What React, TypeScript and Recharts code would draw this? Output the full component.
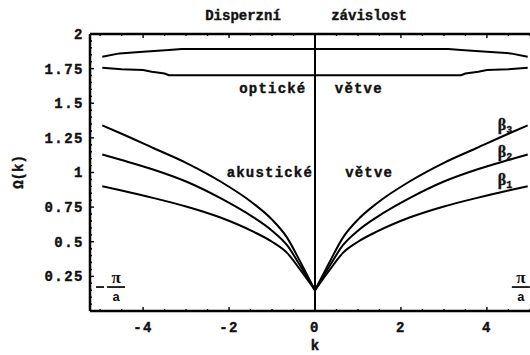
import {
  LineChart,
  Line,
  XAxis,
  YAxis,
  ReferenceLine,
  ReferenceDot,
} from "recharts";

// lattice constant; the k range runs over the first zone -π/a .. π/a
const A = 0.6;
const K_MAX = Math.PI / A;

const MONO = '"Liberation Mono", "DejaVu Sans Mono", monospace';
const SERIF = '"Liberation Serif", "DejaVu Serif", serif';

// acoustic branches Ω(k) for three coupling constants β1 < β2 < β3
const kAcoustic = [
  -4.95, -4.5, -3.75, -3.0, -2.2, -1.45, -1.0, -0.65, -0.35, 0,
  0.35, 0.65, 1.0, 1.45, 2.2, 3.0, 3.75, 4.5, 4.95,
];
const beta1 = [
  0.9, 0.87, 0.815, 0.755, 0.675, 0.575, 0.5, 0.42, 0.3, 0.15,
  0.3, 0.42, 0.5, 0.575, 0.675, 0.755, 0.815, 0.87, 0.9,
];
const beta2 = [
  1.13, 1.09, 1.02, 0.935, 0.815, 0.68, 0.58, 0.475, 0.33, 0.15,
  0.33, 0.475, 0.58, 0.68, 0.815, 0.935, 1.02, 1.09, 1.13,
];
const beta3 = [
  1.34, 1.28, 1.175, 1.07, 0.935, 0.78, 0.66, 0.53, 0.36, 0.15,
  0.36, 0.53, 0.66, 0.78, 0.935, 1.07, 1.175, 1.28, 1.34,
];

// optical branches (upper / lower edge of the optical band)
const kOpticUpper = [-4.95, -4.55, -4.0, -3.4, -3.1, 3.1, 3.4, 4.0, 4.55, 4.95];
const opticUpper = [1.835, 1.86, 1.872, 1.884, 1.892, 1.892, 1.884, 1.872, 1.86, 1.835];
const kOpticLower = [-4.95, -4.5, -4.0, -3.8, -3.5, -3.4, 3.4, 3.5, 3.8, 4.0, 4.5, 4.95];
const opticLower = [1.757, 1.745, 1.74, 1.728, 1.715, 1.703, 1.703, 1.715, 1.728, 1.74, 1.745, 1.757];

// axis ticks
const kTicks = [-4, -2, 0, 2, 4];
const wTicks = [0.25, 0.5, 0.75, 1, 1.25, 1.5, 1.75, 2];

// text placed inside the plot (data coordinates)
const notes = [
  { k: -0.98, w: 1.6, text: "optické" },
  { k: 1.02, w: 1.6, text: "větve" },
  { k: -1.05, w: 1.0, text: "akustické" },
  { k: 1.26, w: 1.0, text: "větve" },
];
const branchLabels = [
  { k: 4.44, w: 1.345, sub: "3" },
  { k: 4.44, w: 1.15, sub: "2" },
  { k: 4.44, w: 0.945, sub: "1" },
];

const acousticRows = kAcoustic.map((k, i) => ({
  k,
  b1: beta1[i],
  b2: beta2[i],
  b3: beta3[i],
}));
// each branch has a cusp at k = 0, so the two halves are drawn separately
const leftRows = acousticRows.filter((r) => r.k <= 0);
const rightRows = acousticRows.filter((r) => r.k >= 0);
const upperRows = kOpticUpper.map((k, i) => ({ k, w: opticUpper[i] }));
const lowerRows = kOpticLower.map((k, i) => ({ k, w: opticLower[i] }));

// frame tick positions (minor ticks every 0.5 in k, 0.05 in Ω)
const round2 = (v: number) => Math.round(v * 100) / 100;
const kFrameTicks = Array.from({ length: 21 }, (_, i) => round2(-5 + i * 0.5));
const wFrameTicks = Array.from({ length: 40 }, (_, i) => round2(0.05 + i * 0.05));

const isMajor = (v: number, majors: number[]) =>
  majors.some((m) => Math.abs(m - v) < 1e-6);

// small ticks drawn inward from the frame
function inwardTick(side: "top" | "bottom" | "left", majors: number[]) {
  return (props: any) => {
    const { x, y, payload } = props;
    const len = isMajor(payload.value, majors) ? 4 : 2;
    let x2 = x;
    let y2 = y;
    if (side === "bottom") y2 = y - len;
    if (side === "top") y2 = y + len;
    if (side === "left") x2 = x + len;
    return <line x1={x} y1={y} x2={x2} y2={y2} stroke="#000" strokeWidth={1.4} />;
  };
}

const INK = "#111";

const tickFont = {
  fontSize: 14,
  fontFamily: MONO,
  fontWeight: "bold" as const,
  fill: INK,
  stroke: INK,
  strokeWidth: 0.4,
  letterSpacing: 1.5,
};

function centerOf(vb: any) {
  return { cx: vb.x + (vb.width || 0) / 2, cy: vb.y + (vb.height || 0) / 2 };
}

function NoteText({ viewBox, text }: { viewBox?: any; text: string }) {
  const { cx, cy } = centerOf(viewBox);
  return (
    <text
      x={cx}
      y={cy}
      textAnchor="middle"
      dominantBaseline="central"
      fontSize={14}
      fontFamily={MONO}
      fontWeight="bold"
      letterSpacing={1.2}
      fill={INK}
      stroke={INK}
      strokeWidth={0.4}
    >
      {text}
    </text>
  );
}

function BetaText({ viewBox, sub }: { viewBox?: any; sub: string }) {
  const { cx, cy } = centerOf(viewBox);
  return (
    <text
      x={cx - 8}
      y={cy + 5}
      fontSize={16}
      fontFamily={SERIF}
      fontWeight="bold"
      fill={INK}
      stroke={INK}
      strokeWidth={0.3}
    >
      β
      <tspan dy={3} fontSize={10} fontFamily={MONO}>
        {sub}
      </tspan>
    </text>
  );
}

// π/a written as a stacked fraction, optionally with a leading minus
function PiOverA({ viewBox, minus }: { viewBox?: any; minus?: boolean }) {
  const { cx, cy } = centerOf(viewBox);
  return (
    <g fill={INK} fontWeight="bold">
      {minus && (
        <line x1={cx - 20} y1={cy} x2={cx - 12} y2={cy} stroke={INK} strokeWidth={1.8} />
      )}
      <text x={cx} y={cy - 4} textAnchor="middle" fontSize={17} fontFamily={SERIF}>
        π
      </text>
      <line x1={cx - 9} y1={cy} x2={cx + 9} y2={cy} stroke={INK} strokeWidth={1.8} />
      <text x={cx} y={cy + 14} textAnchor="middle" fontSize={13} fontFamily={MONO}>
        a
      </text>
    </g>
  );
}

const headText = {
  fontSize: 14,
  fontFamily: MONO,
  fontWeight: "bold" as const,
  fill: INK,
  stroke: INK,
  strokeWidth: 0.4,
};

export default function App() {
  const acoustic = (rows: typeof acousticRows, key: "b1" | "b2" | "b3", side: string) => (
    <Line
      key={`${key}-${side}`}
      xAxisId="k"
      yAxisId="w"
      data={rows}
      type="monotone"
      dataKey={key}
      stroke="#000"
      strokeWidth={2}
      dot={false}
      isAnimationActive={false}
    />
  );

  return (
    <div
      style={{
        position: "fixed",
        left: 0,
        top: 0,
        width: 530,
        height: 355,
        overflow: "hidden",
        background: "#fff",
      }}
    >
      <LineChart
        width={550}
        height={355}
        margin={{ top: 34, right: 10, bottom: 14, left: 40 }}
      >
        <XAxis
          xAxisId="k"
          dataKey="k"
          type="number"
          domain={[-K_MAX, K_MAX]}
          allowDataOverflow
          ticks={kTicks}
          interval={0}
          tickLine={false}
          tickSize={0}
          tickMargin={11}
          axisLine={{ stroke: "#000", strokeWidth: 2.5 }}
          tick={tickFont}
          height={30}
          label={{
            value: "k",
            position: "bottom",
            offset: -1,
            ...headText,
          }}
        />
        <XAxis
          xAxisId="kBottomTicks"
          dataKey="k"
          type="number"
          orientation="bottom"
          mirror
          domain={[-K_MAX, K_MAX]}
          allowDataOverflow
          ticks={kFrameTicks}
          interval={0}
          tickLine={false}
          tickSize={0}
          tickMargin={0}
          axisLine={false}
          tick={inwardTick("bottom", kTicks)}
        />
        <XAxis
          xAxisId="kTop"
          dataKey="k"
          type="number"
          orientation="top"
          mirror
          domain={[-K_MAX, K_MAX]}
          allowDataOverflow
          ticks={kFrameTicks}
          interval={0}
          tickLine={false}
          tickSize={0}
          tickMargin={0}
          axisLine={{ stroke: "#000", strokeWidth: 2.5 }}
          tick={inwardTick("top", kTicks)}
        />
        <YAxis
          yAxisId="w"
          type="number"
          domain={[0, 2]}
          allowDataOverflow
          ticks={wTicks}
          interval={0}
          tickLine={false}
          tickSize={0}
          tickMargin={6}
          axisLine={{ stroke: "#000", strokeWidth: 2.5 }}
          tick={tickFont}
          width={50}
        />
        <YAxis
          yAxisId="wTicks"
          type="number"
          orientation="left"
          mirror
          domain={[0, 2]}
          allowDataOverflow
          ticks={wFrameTicks}
          interval={0}
          tickLine={false}
          tickSize={0}
          tickMargin={0}
          axisLine={false}
          tick={inwardTick("left", wTicks)}
        />

        <ReferenceLine
          xAxisId="k"
          yAxisId="w"
          x={0}
          stroke="#000"
          strokeWidth={2}
        />

        {acoustic(leftRows, "b1", "l")}
        {acoustic(rightRows, "b1", "r")}
        {acoustic(leftRows, "b2", "l")}
        {acoustic(rightRows, "b2", "r")}
        {acoustic(leftRows, "b3", "l")}
        {acoustic(rightRows, "b3", "r")}

        <Line
          xAxisId="k"
          yAxisId="w"
          data={upperRows}
          type="linear"
          dataKey="w"
          stroke="#000"
          strokeWidth={2}
          dot={false}
          isAnimationActive={false}
        />
        <Line
          xAxisId="k"
          yAxisId="w"
          data={lowerRows}
          type="linear"
          dataKey="w"
          stroke="#000"
          strokeWidth={2}
          dot={false}
          isAnimationActive={false}
        />

        {notes.map((n, i) => (
          <ReferenceDot
            key={`note-${i}`}
            xAxisId="k"
            yAxisId="w"
            x={n.k}
            y={n.w}
            r={1}
            fill="none"
            stroke="none"
            label={{ content: (p: any) => <NoteText viewBox={p.viewBox} text={n.text} /> }}
          />
        ))}
        {branchLabels.map((b) => (
          <ReferenceDot
            key={`beta-${b.sub}`}
            xAxisId="k"
            yAxisId="w"
            x={b.k}
            y={b.w}
            r={1}
            fill="none"
            stroke="none"
            label={{ content: (p: any) => <BetaText viewBox={p.viewBox} sub={b.sub} /> }}
          />
        ))}
        <ReferenceDot
          xAxisId="k"
          yAxisId="w"
          x={-4.63}
          y={0.173}
          r={1}
          fill="none"
          stroke="none"
          label={{ content: (p: any) => <PiOverA viewBox={p.viewBox} minus /> }}
        />
        <ReferenceDot
          xAxisId="k"
          yAxisId="w"
          x={4.79}
          y={0.173}
          r={1}
          fill="none"
          stroke="none"
          label={{ content: (p: any) => <PiOverA viewBox={p.viewBox} /> }}
        />
      </LineChart>
      <svg
        width={530}
        height={355}
        style={{ position: "absolute", left: 0, top: 0, pointerEvents: "none" }}
      >
        <text
          x={306}
          y={16}
          textAnchor="middle"
          dominantBaseline="central"
          style={{ whiteSpace: "pre" }}
          {...headText}
        >
          {"Disperzní      závislost"}
        </text>
        <text
          x={19}
          y={172}
          transform="rotate(-90, 19, 172)"
          textAnchor="middle"
          dominantBaseline="central"
          {...headText}
        >
          Ω(k)
        </text>
      </svg>
    </div>
  );
}
